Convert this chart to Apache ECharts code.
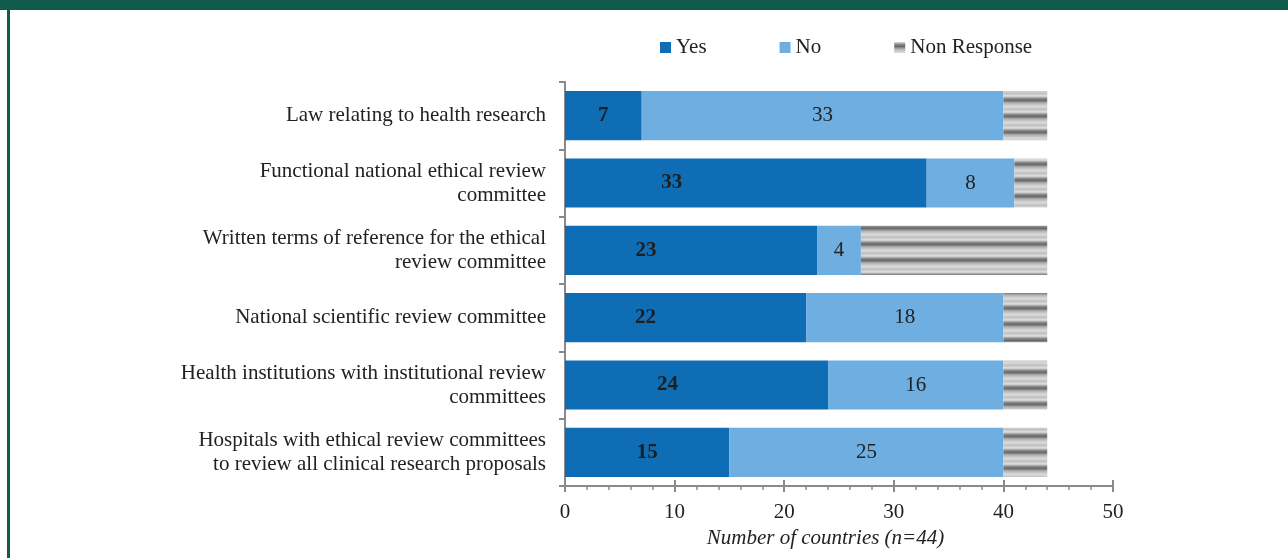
<!DOCTYPE html>
<html>
<head>
<meta charset="utf-8">
<script src="https://cdn.jsdelivr.net/npm/echarts@6/dist/echarts.min.js"></script>
<style>
html,body{margin:0;padding:0;background:#fff;}
#chart{width:1288px;height:558px;}
</style>
</head>
<body>
<div id="chart"></div>
<script>
var categories = [
    'Law relating to health research',
    'Functional national ethical review\ncommittee',
    'Written terms of reference for the ethical\nreview committee',
    'National scientific review committee',
    'Health institutions with institutional review\ncommittees',
    'Hospitals with ethical review committees\nto review all clinical research proposals'
];
var yesValues = [7, 33, 23, 22, 24, 15];
var noValues = [33, 8, 4, 18, 16, 25];
var nonResponse = [4, 3, 17, 4, 4, 4];
var xTicks = [0, 10, 20, 30, 40, 50];

// the Yes labels are not centred in the original, shift them a bit
var yesLabelDx = [0, -74, -45, -40, -29, 0];

var FONT = '"Liberation Serif", "DejaVu Serif", serif';

// grey horizontal stripes for Non Response
function stripes(){
    var c = document.createElement('canvas');
    c.width = 8; c.height = 16;
    var ctx = c.getContext('2d');
    var g = ctx.createLinearGradient(0, 0, 0, 16);
    g.addColorStop(0, '#e2e2e2');
    g.addColorStop(0.15, '#8a8a8a');
    g.addColorStop(0.28, '#6a6a6a');
    g.addColorStop(0.45, '#b4b4b4');
    g.addColorStop(0.65, '#dadada');
    g.addColorStop(0.85, '#c0c0c0');
    g.addColorStop(1, '#e2e2e2');
    ctx.fillStyle = g;
    ctx.fillRect(0, 0, 8, 16);
    return c;
}

var myChart = echarts.init(document.getElementById('chart'));

var yesData = yesValues.map(function(v, i){
    return {value: v, label: {offset: [yesLabelDx[i], 0]}};
});

option = {
    animation: false,
    textStyle: {fontFamily: FONT},
    graphic: [
        {type: 'rect', left: 0, top: 0, shape: {width: 1288, height: 10}, style: {fill: '#105b49'}},
        {type: 'rect', left: 7, top: 0, shape: {width: 3, height: 558}, style: {fill: '#105b49'}}
    ],
    legend: {
        left: 655,
        top: 32,
        itemWidth: 11,
        itemHeight: 11,
        itemGap: 73,
        icon: 'rect',
        textStyle: {fontFamily: FONT, fontSize: 21, color: '#222'},
        data: ['Yes', 'No', 'Non Response']
    },
    grid: {left: 565, right: 175, top: 82, bottom: 72, containLabel: false},
    xAxis: [{
        type: 'value',
        min: 0,
        max: 50,
        interval: 10,
        name: 'Number of countries (n=44)',
        nameLocation: 'middle',
        nameGap: 42,
        nameTextStyle: {fontFamily: FONT, fontSize: 21, fontStyle: 'italic', color: '#222', padding: [0, 27, 0, 0]},
        axisLine: {show: true, lineStyle: {color: '#8a8a8a', width: 2}},
        axisTick: {show: true, length: 6, lineStyle: {color: '#8a8a8a', width: 2}},
        minorTick: {show: true, splitNumber: 5, length: 4, lineStyle: {color: '#8a8a8a', width: 1.5}},
        splitLine: {show: false},
        axisLabel: {fontFamily: FONT, fontSize: 21, color: '#222', margin: 16,
            formatter: function(v){ return xTicks.indexOf(v) >= 0 ? v : ''; }}
    }, {
        // upper half of the crossing major ticks
        type: 'value',
        min: 0,
        max: 50,
        interval: 10,
        position: 'bottom',
        axisLine: {show: false},
        axisTick: {show: true, inside: true, length: 6, lineStyle: {color: '#8a8a8a', width: 2}},
        axisLabel: {show: false},
        splitLine: {show: false}
    }],
    yAxis: {
        type: 'category',
        inverse: true,
        data: categories,
        axisLine: {show: true, lineStyle: {color: '#8a8a8a', width: 2}},
        axisTick: {show: true, length: 6, lineStyle: {color: '#8a8a8a', width: 2}},
        axisLabel: {fontFamily: FONT, fontSize: 21, lineHeight: 24, color: '#222', margin: 19, align: 'right'}
    },
    series: [
        {
            name: 'Yes',
            type: 'bar',
            stack: 'all',
            barWidth: '73%',
            itemStyle: {color: '#0f6db6'},
            label: {show: true, position: 'inside', fontFamily: FONT, fontSize: 21, fontWeight: 'bold', color: '#1e1e1e'},
            data: yesData
        },
        {
            name: 'No',
            type: 'bar',
            stack: 'all',
            itemStyle: {color: '#6eaee0'},
            label: {show: true, position: 'inside', fontFamily: FONT, fontSize: 21, color: '#222'},
            data: noValues
        },
        {
            name: 'Non Response',
            type: 'bar',
            stack: 'all',
            itemStyle: {color: {image: stripes(), repeat: 'repeat'}},
            label: {show: false},
            data: nonResponse
        }
    ]
};
myChart.setOption(option);
</script>
</body>
</html>
